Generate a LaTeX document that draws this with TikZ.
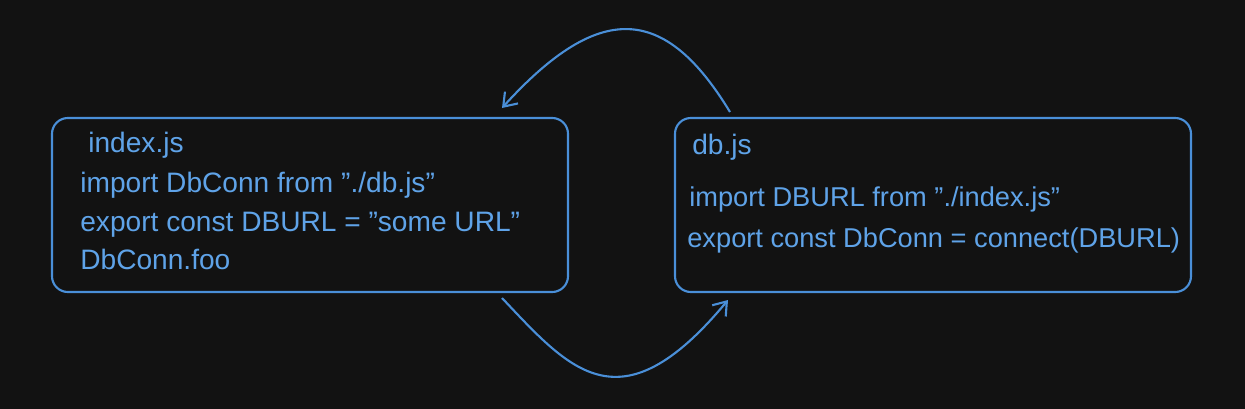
\documentclass[tikz,border=0pt]{standalone}
\usepackage{fontspec}
\setmainfont{Liberation Sans}[Ligatures=ResetAll]
\usetikzlibrary{arrows.meta}
\definecolor{bg}{HTML}{121212}
\definecolor{stroke}{HTML}{4A8FD8}
\definecolor{txt}{HTML}{5FA3E8}
\newcommand{\dq}{\char34{}}
\tikzset{
  filebox/.style={draw=stroke, line width=1.2pt, rounded corners=9pt},
  code/.style={anchor=base west, text=txt, font=\fontsize{16}{19}\selectfont, inner sep=0pt},
  flow/.style={draw=stroke, line width=1.2pt, -{Straight Barb[length=7pt,width=10pt]}}
}
\begin{document}
\begin{tikzpicture}[x=0.02cm,y=-0.02cm]
\fill[bg] (0,0) rectangle (1245,409);
\useasboundingbox (0,0) rectangle (1245,409);
\draw[filebox] (52,118) rectangle (568,292);
\draw[filebox] (675,118) rectangle (1191,292);
\node[code] (l0) at (88,152) {index.js};
\node[code] (l1) at (80,192) {import DbConn from \dq./db.js\dq};
\node[code] (l2) at (80,231) {export const DBURL = \dq some URL\dq};
\node[code] (l3) at (80,269) {DbConn.foo};
\node[code] (r0) at (692,154) {db.js};
\node[code, font=\fontsize{15.5}{19}\selectfont] (r1) at (689,206) {import DBURL from \dq./index.js\dq};
\node[code, font=\fontsize{15.5}{19}\selectfont] (r2) at (687,247) {export const DbConn = connect(DBURL)};
\coordinate (ts) at (730,112);
\coordinate (te) at (502,108);
\coordinate (bs) at (502,298);
\coordinate (be) at (728,300);
\draw[flow] (ts) .. controls (665,5) and (600,0) .. (te);
\draw[flow] (bs) .. controls (570,370) and (620,430) .. (be);
\end{tikzpicture}
\end{document}
